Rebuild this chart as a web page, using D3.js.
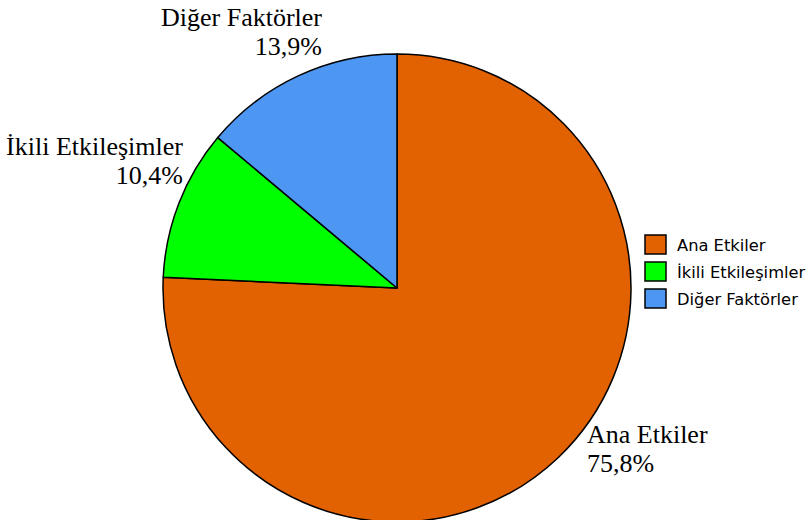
<!DOCTYPE html>
<html>
<head>
<meta charset="utf-8">
<script src="https://cdn.jsdelivr.net/npm/d3@7"></script>
<style>
  html, body { margin: 0; padding: 0; background: #ffffff; }
  svg { display: block; }
</style>
</head>
<body>
<svg id="chart" width="806" height="520"></svg>
<script>
// Share of variance by source
const categories = ["Ana Etkiler", "İkili Etkileşimler", "Diğer Faktörler"];
const values = [75.8, 10.4, 13.9];
const valueLabels = ["75,8%", "10,4%", "13,9%"];
const colors = ["#E26100", "#00FF00", "#4D97F3"];

const svg = d3.select("#chart");
const cx = 397, cy = 288, radius = 234;

const pie = d3.pie().sort(null).value(d => d.value);
const arcs = pie(categories.map((c, i) => ({ name: c, value: values[i], label: valueLabels[i], color: colors[i] })));
const arc = d3.arc().innerRadius(0).outerRadius(radius);

const g = svg.append("g").attr("transform", `translate(${cx},${cy})`);
g.selectAll("path.slice")
  .data(arcs)
  .join("path")
  .attr("class", "slice")
  .attr("d", arc)
  .attr("fill", d => d.data.color)
  .attr("stroke", "#000")
  .attr("stroke-width", 1.5)
  .attr("stroke-linejoin", "round");

// Outside labels: name on first line, percent on second
const labelPos = [
  { x: 587, y: 443, anchor: "start" },
  { x: 183, y: 155, anchor: "end" },
  { x: 322, y: 26, anchor: "end" }
];
const lbl = svg.append("g")
  .attr("font-family", "'Liberation Serif', 'Times New Roman', serif")
  .attr("font-size", 26)
  .attr("fill", "#000");
arcs.forEach((d, i) => {
  const p = labelPos[i];
  const t = lbl.append("text").attr("text-anchor", p.anchor);
  t.append("tspan").attr("x", p.x).attr("y", p.y).text(d.data.name);
  t.append("tspan").attr("x", p.x).attr("y", p.y + 29).text(d.data.label);
});

// Legend
const legend = svg.append("g").attr("transform", "translate(645,235)");
const rows = legend.selectAll("g.row")
  .data(arcs)
  .join("g")
  .attr("class", "row")
  .attr("transform", (d, i) => `translate(0,${i * 27})`);
rows.append("rect")
  .attr("x", 0).attr("y", 0)
  .attr("width", 21).attr("height", 19)
  .attr("fill", d => d.data.color)
  .attr("stroke", "#000")
  .attr("stroke-width", 1.5);
rows.append("text")
  .attr("x", 32).attr("y", 16)
  .attr("font-family", "'DejaVu Sans', Verdana, sans-serif")
  .attr("font-size", 16.3)
  .attr("fill", "#000")
  .text(d => d.data.name);
</script>
</body>
</html>
